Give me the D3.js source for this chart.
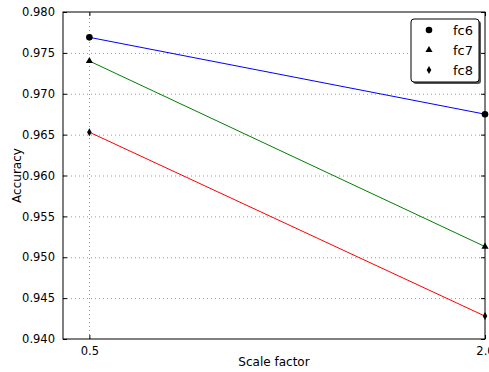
<!DOCTYPE html>
<html>
<head>
<meta charset="utf-8">
<script src="https://cdn.jsdelivr.net/npm/d3@7"></script>
<style>
  body { margin: 0; background: #fff; }
  svg { display: block; font-family: "DejaVu Sans", sans-serif; }
</style>
</head>
<body>
<div id="chart"></div>
<script>
const width = 489;
const height = 372;
const margin = { top: 12, right: 4, bottom: 33, left: 63 };

// data
const scales = [0.5, 2.0];
const fc6 = [0.9769, 0.9675];
const fc7 = [0.9740, 0.9513];
const fc8 = [0.9653, 0.9428];
const seriesNames = ['fc6', 'fc7', 'fc8'];
const seriesColors = ['#0000ff', '#008000', '#ff0000'];
const yTicks = [0.940, 0.945, 0.950, 0.955, 0.960, 0.965, 0.970, 0.975, 0.980];
const xTicks = [0.5, 2.0];

const series = [fc6, fc7, fc8];

const x = d3.scaleLinear().domain([0.4, 2.0]).range([margin.left, width - margin.right]);
const y = d3.scaleLinear().domain([0.940, 0.980]).range([height - margin.bottom, margin.top]);

const svg = d3.select('#chart').append('svg')
    .attr('width', width)
    .attr('height', height);

const x0 = x.range()[0], x1 = x.range()[1];
const y0 = y.range()[0], y1 = y.range()[1];

// grid
svg.append('g')
    .selectAll('line')
    .data(yTicks.slice(1, -1))
    .join('line')
    .attr('x1', x0).attr('x2', x1)
    .attr('y1', d => y(d) + 0.5).attr('y2', d => y(d) + 0.5)
    .attr('stroke', '#999')
    .attr('stroke-dasharray', '1,3');

svg.append('line')
    .attr('x1', Math.round(x(0.5)) + 0.5).attr('x2', Math.round(x(0.5)) + 0.5)
    .attr('y1', y0).attr('y2', y1)
    .attr('stroke', '#999')
    .attr('stroke-dasharray', '1,3');

// lines
const line = d3.line().x((d, i) => x(scales[i])).y(d => y(d));
series.forEach((s, k) => {
    svg.append('path')
        .datum(s)
        .attr('d', line)
        .attr('fill', 'none')
        .attr('stroke', seriesColors[k])
        .attr('stroke-width', 1);
});

// markers
const symbols = [d3.symbolCircle, d3.symbolTriangle, d3.symbolDiamond];
function marker(k) {
    if (k === 2) return 'M0,-4L2.3,0L0,4L-2.3,0Z';
    return d3.symbol().type(symbols[k]).size(k === 0 ? 34 : 22)();
}
series.forEach((s, k) => {
    svg.append('g')
        .selectAll('path')
        .data(s)
        .join('path')
        .attr('d', marker(k))
        .attr('transform', (d, i) => `translate(${x(scales[i])},${y(d)})`)
        .attr('fill', '#000');
});

// axes (ticks inside, matplotlib classic)
const yAxis = d3.axisLeft(y).tickValues(yTicks).tickFormat(d3.format('.3f')).tickSizeInner(-4).tickSizeOuter(0).tickPadding(8);
const gy = svg.append('g').attr('transform', `translate(${x0},0)`).call(yAxis);
gy.attr('font-family', null).attr('font-size', null);
gy.select('.domain').remove();
gy.selectAll('text').style('font-size', '11.5px').attr('fill', '#000');

const gyr = svg.append('g').attr('transform', `translate(${x1},0)`)
    .call(d3.axisRight(y).tickValues(yTicks).tickSizeInner(-4).tickSizeOuter(0).tickFormat(''));
gyr.select('.domain').remove();

const xAxis = d3.axisBottom(x).tickValues(xTicks).tickFormat(d3.format('.1f')).tickSizeInner(-4).tickSizeOuter(0).tickPadding(8);
const gx = svg.append('g').attr('transform', `translate(0,${y0})`).call(xAxis);
gx.attr('font-family', null).attr('font-size', null);
gx.select('.domain').remove();
gx.selectAll('text').style('font-size', '11.5px').attr('fill', '#000');

const gxt = svg.append('g').attr('transform', `translate(0,${y1})`)
    .call(d3.axisTop(x).tickValues(xTicks).tickSizeInner(-4).tickSizeOuter(0).tickFormat(''));
gxt.select('.domain').remove();

// frame
svg.append('rect')
    .attr('x', x0).attr('y', y1)
    .attr('width', x1 - x0).attr('height', y0 - y1)
    .attr('fill', 'none')
    .attr('stroke', '#000')
    .attr('stroke-width', 1);

// labels
svg.append('text')
    .attr('x', (x0 + x1) / 2)
    .attr('y', 366)
    .attr('text-anchor', 'middle')
    .style('font-size', '12px')
    .text('Scale factor');

svg.append('text')
    .attr('transform', `translate(21, ${(y0 + y1) / 2}) rotate(-90)`)
    .attr('text-anchor', 'middle')
    .style('font-size', '12px')
    .text('Accuracy');

// legend
const lg = svg.append('g').attr('transform', 'translate(411,19)');
lg.append('rect')
    .attr('x', 2).attr('y', 2)
    .attr('width', 68).attr('height', 63)
    .attr('rx', 3)
    .attr('fill', '#555');
lg.append('rect')
    .attr('width', 68).attr('height', 63)
    .attr('rx', 3)
    .attr('fill', '#fff')
    .attr('stroke', '#000')
    .attr('stroke-width', 1);
seriesNames.forEach((name, k) => {
    const row = lg.append('g').attr('transform', `translate(0,${11 + k * 20})`);
    row.append('path')
        .attr('d', marker(k))
        .attr('transform', 'translate(18,0)')
        .attr('fill', '#000');
    row.append('text')
        .attr('x', 62)
        .attr('y', 5)
        .attr('text-anchor', 'end')
        .style('font-size', '13px')
        .text(name);
});
</script>
</body>
</html>
